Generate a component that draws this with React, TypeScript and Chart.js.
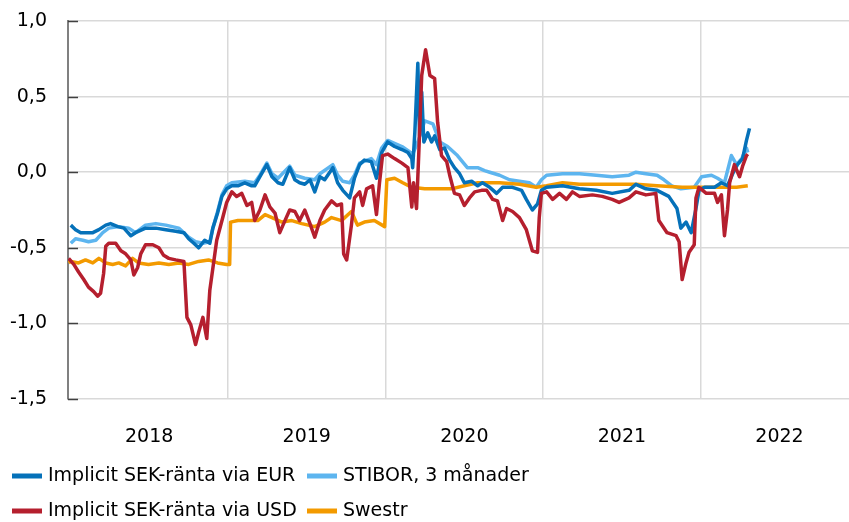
import React, { useEffect, useRef } from 'react';
import { Chart, registerables } from 'chart.js';

Chart.register(...registerables);

// ---- Data ----
const yearLabels = ['2018', '2019', '2020', '2021', '2022'];
const yTickValues = [-1.5, -1.0, -0.5, 0.0, 0.5, 1.0];

const seriesNames = [
  'Implicit SEK-ränta via EUR',
  'STIBOR, 3 månader',
  'Implicit SEK-ränta via USD',
  'Swestr',
];

const eurDates = ['2018-01-02','2018-01-13','2018-01-25','2018-02-05','2018-02-22','2018-03-08','2018-03-24','2018-04-04','2018-04-21','2018-05-05','2018-05-21','2018-06-01','2018-06-24','2018-07-18','2018-08-10','2018-09-02','2018-09-21','2018-10-02','2018-10-14','2018-10-25','2018-11-08','2018-11-20','2018-11-27','2018-12-08','2018-12-18','2018-12-29','2019-01-10','2019-01-24','2019-02-09','2019-02-25','2019-03-04','2019-03-16','2019-04-01','2019-04-13','2019-04-27','2019-05-08','2019-05-24','2019-06-05','2019-06-16','2019-06-28','2019-07-10','2019-07-21','2019-08-02','2019-08-13','2019-09-01','2019-09-12','2019-09-24','2019-10-10','2019-10-21','2019-11-02','2019-11-13','2019-11-29','2019-12-11','2019-12-23','2020-01-06','2020-01-22','2020-02-08','2020-02-22','2020-03-02','2020-03-04','2020-03-09','2020-03-16','2020-03-20','2020-03-25','2020-03-30','2020-04-08','2020-04-17','2020-04-24','2020-05-06','2020-05-17','2020-05-29','2020-06-09','2020-06-21','2020-07-02','2020-07-19','2020-08-02','2020-08-13','2020-08-30','2020-09-15','2020-09-29','2020-10-22','2020-11-12','2020-11-23','2020-12-07','2020-12-19','2020-12-28','2021-01-09','2021-02-15','2021-03-26','2021-05-04','2021-06-10','2021-07-19','2021-08-04','2021-08-27','2021-09-22','2021-10-19','2021-11-07','2021-11-16','2021-11-28','2021-12-10','2021-12-21','2021-12-28','2022-01-10','2022-02-02','2022-02-18','2022-03-04','2022-03-16','2022-03-27','2022-04-08','2022-04-17','2022-04-24'];
const eurValues = [-0.35,-0.38,-0.40,-0.40,-0.40,-0.38,-0.35,-0.34,-0.36,-0.37,-0.42,-0.40,-0.37,-0.37,-0.38,-0.39,-0.40,-0.44,-0.47,-0.50,-0.45,-0.47,-0.37,-0.27,-0.16,-0.11,-0.09,-0.09,-0.07,-0.09,-0.09,-0.03,0.05,-0.03,-0.07,-0.08,0.03,-0.05,-0.07,-0.08,-0.05,-0.13,-0.03,-0.05,0.03,-0.07,-0.12,-0.17,-0.04,0.05,0.08,0.07,-0.04,0.13,0.20,0.17,0.15,0.13,0.09,0.03,0.26,0.72,0.24,0.53,0.20,0.26,0.20,0.24,0.15,0.16,0.08,0.03,-0.01,-0.07,-0.06,-0.09,-0.07,-0.10,-0.14,-0.10,-0.10,-0.12,-0.18,-0.25,-0.21,-0.12,-0.10,-0.09,-0.11,-0.12,-0.14,-0.12,-0.08,-0.11,-0.12,-0.16,-0.24,-0.37,-0.33,-0.40,-0.24,-0.12,-0.10,-0.10,-0.07,-0.09,-0.01,0.05,0.09,0.21,0.29];

const stiborDates = ['2018-01-02','2018-01-13','2018-01-30','2018-02-12','2018-03-01','2018-03-17','2018-03-31','2018-04-23','2018-05-16','2018-06-01','2018-06-24','2018-07-18','2018-08-10','2018-09-09','2018-10-02','2018-10-18','2018-11-04','2018-11-20','2018-11-27','2018-12-08','2018-12-18','2018-12-29','2019-01-10','2019-02-09','2019-03-04','2019-03-16','2019-04-01','2019-04-13','2019-04-27','2019-05-24','2019-06-05','2019-06-28','2019-07-21','2019-08-02','2019-09-01','2019-09-12','2019-09-24','2019-10-10','2019-10-21','2019-11-02','2019-11-29','2019-12-11','2019-12-23','2020-01-06','2020-02-08','2020-03-04','2020-03-16','2020-04-01','2020-04-20','2020-05-06','2020-05-24','2020-06-16','2020-07-09','2020-08-02','2020-08-18','2020-08-30','2020-09-22','2020-10-15','2020-11-07','2020-11-30','2020-12-16','2020-12-28','2021-01-09','2021-02-15','2021-03-26','2021-05-04','2021-06-10','2021-07-19','2021-08-04','2021-08-27','2021-09-22','2021-10-08','2021-10-26','2021-11-16','2021-12-17','2022-01-03','2022-01-26','2022-02-09','2022-02-25','2022-03-13','2022-03-25','2022-04-06','2022-04-17','2022-04-20'];
const stiborValues = [-0.47,-0.44,-0.45,-0.46,-0.45,-0.40,-0.37,-0.36,-0.37,-0.40,-0.35,-0.34,-0.35,-0.37,-0.43,-0.46,-0.47,-0.46,-0.37,-0.26,-0.15,-0.09,-0.07,-0.06,-0.07,-0.02,0.06,-0.01,-0.04,0.04,-0.02,-0.04,-0.05,-0.01,0.05,-0.02,-0.06,-0.07,-0.02,0.06,0.09,0.05,0.16,0.21,0.17,0.12,0.20,0.34,0.32,0.20,0.17,0.11,0.03,0.03,0.01,0.00,-0.02,-0.05,-0.06,-0.07,-0.10,-0.05,-0.02,-0.01,-0.01,-0.02,-0.03,-0.02,0.00,-0.01,-0.02,-0.05,-0.09,-0.11,-0.10,-0.03,-0.02,-0.04,-0.07,0.11,0.05,0.09,0.16,0.13];

const usdDates = ['2017-12-28','2018-01-09','2018-01-20','2018-02-01','2018-02-12','2018-02-24','2018-03-05','2018-03-12','2018-03-19','2018-03-24','2018-03-31','2018-04-16','2018-04-28','2018-05-09','2018-05-21','2018-05-28','2018-06-06','2018-06-13','2018-06-24','2018-07-11','2018-07-25','2018-08-05','2018-08-17','2018-09-02','2018-09-21','2018-09-28','2018-10-07','2018-10-18','2018-10-25','2018-11-04','2018-11-11','2018-11-13','2018-11-20','2018-12-06','2018-12-20','2018-12-29','2019-01-10','2019-01-21','2019-02-02','2019-02-14','2019-02-25','2019-03-04','2019-03-16','2019-03-28','2019-04-08','2019-04-20','2019-05-01','2019-05-13','2019-05-24','2019-06-05','2019-06-16','2019-06-28','2019-07-10','2019-07-21','2019-08-02','2019-08-13','2019-08-29','2019-09-10','2019-09-21','2019-09-26','2019-10-03','2019-10-14','2019-10-21','2019-11-02','2019-11-09','2019-11-18','2019-12-02','2019-12-11','2019-12-18','2019-12-25','2020-01-06','2020-01-22','2020-02-08','2020-02-22','2020-03-02','2020-03-06','2020-03-13','2020-03-18','2020-03-25','2020-04-03','2020-04-13','2020-04-24','2020-05-01','2020-05-10','2020-05-22','2020-05-29','2020-06-09','2020-06-21','2020-07-02','2020-07-14','2020-07-26','2020-08-11','2020-08-23','2020-09-06','2020-09-17','2020-09-29','2020-10-08','2020-10-22','2020-11-07','2020-11-23','2020-12-07','2020-12-19','2020-12-23','2020-12-28','2021-01-09','2021-01-23','2021-02-08','2021-02-24','2021-03-10','2021-03-26','2021-04-25','2021-05-18','2021-06-10','2021-06-26','2021-07-19','2021-08-04','2021-08-27','2021-09-19','2021-09-26','2021-10-15','2021-11-05','2021-11-12','2021-11-19','2021-11-28','2021-12-05','2021-12-17','2021-12-21','2021-12-28','2022-01-14','2022-02-02','2022-02-09','2022-02-18','2022-02-25','2022-03-04','2022-03-09','2022-03-20','2022-04-01','2022-04-08','2022-04-17','2022-04-20'];
const usdValues = [-0.57,-0.61,-0.66,-0.71,-0.76,-0.79,-0.82,-0.80,-0.67,-0.49,-0.47,-0.47,-0.52,-0.54,-0.58,-0.68,-0.63,-0.54,-0.48,-0.48,-0.50,-0.55,-0.57,-0.58,-0.59,-0.96,-1.01,-1.14,-1.06,-0.96,-1.07,-1.10,-0.78,-0.45,-0.30,-0.20,-0.13,-0.16,-0.14,-0.22,-0.20,-0.32,-0.25,-0.15,-0.23,-0.27,-0.40,-0.32,-0.25,-0.26,-0.32,-0.25,-0.34,-0.43,-0.32,-0.25,-0.19,-0.22,-0.21,-0.54,-0.58,-0.35,-0.17,-0.13,-0.22,-0.11,-0.09,-0.28,-0.07,0.11,0.12,0.09,0.06,0.03,-0.23,-0.07,-0.24,0.11,0.64,0.81,0.64,0.62,0.33,0.11,0.07,-0.02,-0.14,-0.15,-0.22,-0.17,-0.13,-0.12,-0.12,-0.18,-0.19,-0.32,-0.24,-0.26,-0.30,-0.38,-0.52,-0.53,-0.30,-0.14,-0.13,-0.18,-0.14,-0.18,-0.13,-0.16,-0.15,-0.16,-0.18,-0.20,-0.17,-0.13,-0.15,-0.14,-0.32,-0.40,-0.42,-0.46,-0.71,-0.60,-0.53,-0.48,-0.17,-0.10,-0.14,-0.14,-0.20,-0.15,-0.42,-0.25,-0.07,0.05,-0.03,0.04,0.11,0.12];

const swestrDates = ['2017-12-28','2018-01-02','2018-01-20','2018-02-05','2018-02-22','2018-03-08','2018-03-24','2018-04-09','2018-04-23','2018-05-09','2018-05-25','2018-06-08','2018-07-01','2018-07-25','2018-08-17','2018-09-09','2018-10-02','2018-10-25','2018-11-17','2018-12-08','2018-12-29','2019-01-05','2019-01-07','2019-01-24','2019-02-16','2019-03-11','2019-03-28','2019-04-13','2019-05-06','2019-05-29','2019-06-21','2019-07-21','2019-08-13','2019-08-29','2019-09-21','2019-10-14','2019-10-28','2019-11-13','2019-12-06','2019-12-30','2020-01-04','2020-01-22','2020-02-10','2020-03-02','2020-04-01','2020-05-01','2020-06-02','2020-07-02','2020-08-02','2020-09-22','2020-11-07','2020-12-16','2021-01-09','2021-02-15','2021-03-26','2021-06-10','2021-08-04','2021-09-22','2021-11-19','2022-01-10','2022-02-25','2022-03-25','2022-04-20'];
const swestrValues = [-0.60,-0.59,-0.60,-0.58,-0.60,-0.57,-0.60,-0.61,-0.60,-0.62,-0.57,-0.60,-0.61,-0.60,-0.61,-0.60,-0.61,-0.59,-0.58,-0.60,-0.61,-0.61,-0.33,-0.32,-0.32,-0.32,-0.28,-0.30,-0.33,-0.32,-0.34,-0.36,-0.33,-0.30,-0.32,-0.26,-0.35,-0.33,-0.32,-0.36,-0.05,-0.04,-0.07,-0.10,-0.11,-0.11,-0.11,-0.09,-0.07,-0.07,-0.08,-0.10,-0.09,-0.07,-0.08,-0.08,-0.08,-0.09,-0.10,-0.10,-0.10,-0.10,-0.09];

// ---- Styles ----
const COLORS = ['#0571B9', '#5DB5EF', '#B51F2E', '#F39A00'];
const FONT_FAMILY = '"DejaVu Sans", sans-serif';
const FONT_SIZE = 19;
const X_MIN = 2017.985;
const X_MAX = 2022.941;

function toYear(s: string): number {
  const [y, m, d] = s.split('-').map(Number);
  const start = Date.UTC(y, 0, 1);
  const end = Date.UTC(y + 1, 0, 1);
  return y + (Date.UTC(y, m - 1, d) - start) / (end - start);
}

function toPoints(dates: string[], values: number[]) {
  return dates.map((d, i) => ({ x: toYear(d), y: values[i] }));
}

const insideTicksPlugin = {
  id: 'insideTicks',
  beforeDatasetsDraw(chart: any) {
    const { ctx, chartArea, scales } = chart;
    const y = scales.y;
    ctx.save();
    ctx.strokeStyle = '#404040';
    ctx.lineWidth = 1.5;
    y.ticks.forEach((t: any) => {
      const py = Math.round(y.getPixelForValue(t.value)) + 0.5;
      ctx.beginPath();
      ctx.moveTo(chartArea.left, py);
      ctx.lineTo(chartArea.left + 10, py);
      ctx.stroke();
    });
    ctx.restore();
  },
};

const legendPlugin = {
  id: 'customLegend',
  afterDraw(chart: any) {
    const { ctx } = chart;
    const colX = [12, 307];
    const rowY = [476, 511];
    ctx.save();
    ctx.font = `${FONT_SIZE}px ${FONT_FAMILY}`;
    ctx.textBaseline = 'middle';
    ctx.textAlign = 'left';
    chart.data.datasets.forEach((ds: any, k: number) => {
      const cx = colX[k % 2];
      const cy = rowY[Math.floor(k / 2)];
      ctx.strokeStyle = ds.borderColor;
      ctx.lineWidth = 5;
      ctx.beginPath();
      ctx.moveTo(cx, cy);
      ctx.lineTo(cx + 30, cy);
      ctx.stroke();
      ctx.fillStyle = '#000';
      ctx.fillText(ds.label, cx + 36, cy);
    });
    ctx.restore();
  },
};

export default function App() {
  const canvasRef = useRef<HTMLCanvasElement | null>(null);

  useEffect(() => {
    if (!canvasRef.current) return;
    const font = { family: FONT_FAMILY, size: FONT_SIZE };
    const mk = (i: number, dates: string[], values: number[], order: number) => ({
      label: seriesNames[i],
      data: toPoints(dates, values),
      borderColor: COLORS[i],
      backgroundColor: COLORS[i],
      borderWidth: 3.5,
      pointRadius: 0,
      tension: 0,
      fill: false,
      borderJoinStyle: 'round' as const,
      order,
    });
    const chart = new Chart(canvasRef.current, {
      type: 'line',
      data: {
        datasets: [
          mk(0, eurDates, eurValues, 1),
          mk(1, stiborDates, stiborValues, 3),
          mk(2, usdDates, usdValues, 0),
          mk(3, swestrDates, swestrValues, 2),
        ],
      },
      options: {
        animation: false,
        responsive: false,
        devicePixelRatio: 1,
        layout: { padding: { top: 21, right: 0, left: 0, bottom: 0 } },
        plugins: { legend: { display: false }, tooltip: { enabled: false } },
        scales: {
          x: {
            type: 'linear',
            min: X_MIN,
            max: X_MAX,
            afterBuildTicks: (s: any) => {
              s.ticks = yearLabels.map((y) => ({ value: Number(y) + 0.5 }));
            },
            afterFit: (s: any) => {
              s.height = 123;
              s.paddingLeft = 0;
              s.paddingRight = 0;
            },
            grid: {
              offset: true,
              color: (c: any) => (c.index === 0 ? 'rgba(0,0,0,0)' : '#d9d9d9'),
              lineWidth: 1.5,
              drawTicks: false,
            },
            border: { display: false },
            ticks: {
              callback: (v: any) => String(Math.floor(Number(v))),
              font,
              color: '#000',
              padding: 27,
              maxRotation: 0,
              autoSkip: false,
            },
          },
          y: {
            type: 'linear',
            min: -1.5,
            max: 1.0,
            afterBuildTicks: (s: any) => {
              s.ticks = yTickValues.map((v) => ({ value: v }));
            },
            afterFit: (s: any) => {
              s.width = 68;
              s.paddingTop = 0;
              s.paddingBottom = 0;
            },
            grid: { color: '#d9d9d9', lineWidth: 1.5, drawTicks: false },
            border: { display: true, color: '#808080', width: 2 },
            ticks: {
              callback: (v: any) => Number(v).toFixed(1).replace('.', ','),
              font,
              color: '#000',
              padding: 21,
            },
          },
        },
      },
      plugins: [insideTicksPlugin, legendPlugin],
    });
    return () => chart.destroy();
  }, []);

  return (
    <div style={{ position: 'absolute', left: 0, top: 0, width: 849, height: 522, background: '#fff' }}>
      <canvas ref={canvasRef} width={849} height={522} style={{ display: 'block', width: 849, height: 522 }} />
    </div>
  );
}
